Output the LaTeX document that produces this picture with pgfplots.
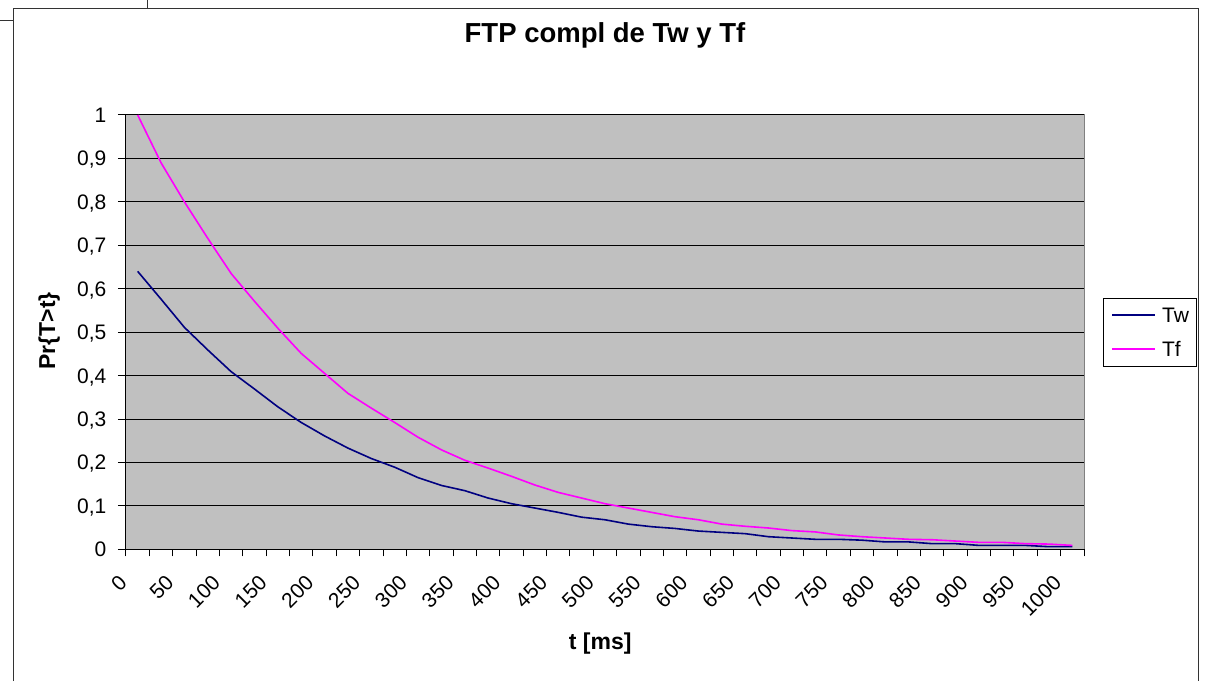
\documentclass[border=0pt]{standalone}
\usepackage{fontspec}
\setmainfont{Liberation Sans}
\usepackage{pgfplots}
\pgfplotsset{compat=1.18}
\definecolor{plotgray}{HTML}{C0C0C0}
\definecolor{framegray}{HTML}{808080}
\definecolor{twblue}{HTML}{000080}
\definecolor{tfmag}{HTML}{FF00FF}

\begin{document}
\begin{tikzpicture}[x=1pt,y=1pt]
\useasboundingbox (0,0) rectangle (602.5,340.5);
\clip (0,0) rectangle (602.5,340.5);
% chart frame and neighbouring cell borders
\draw[black!80, line width=0.6pt] (6.65,0) -- (6.65,336.15) -- (599.1,336.15) -- (599.1,0);
\draw[black!80, line width=0.6pt] (0,330.15) -- (6.65,330.15);
\draw[black!80, line width=0.6pt] (73.85,340.5) -- (73.85,336.15);
\begin{axis}[
  at={(63pt,65.85pt)}, anchor=south west,
  scale only axis, width=479pt, height=217.15pt,
  xmin=-0.5, xmax=40.5, ymin=0, ymax=1,
  axis lines*=left,
  axis line style={black, line width=0.5pt},
  axis background/.style={fill=plotgray, draw=framegray, line width=0.5pt},
  tick align=outside, tick pos=left,
  major tick length=4pt, minor tick length=3.5pt,
  xtick={0,2,...,40},
  xticklabels={0,50,100,150,200,250,300,350,400,450,500,550,600,650,700,750,800,850,900,950,1000},
  major x tick style={draw=none},
  minor xtick={-0.5,0.5,...,40.5},
  minor tick style={black, line width=0.5pt},
  ytick={0,0.1,0.2,0.3,0.4,0.5,0.6,0.7,0.8,0.9,1},
  y tick style={black, line width=0.5pt},
  ymajorgrids=true,
  major grid style={black, line width=0.5pt},
  /pgf/number format/.cd, use comma, fixed, precision=1, assume math mode=true,
  /pgfplots/.cd,
  tick label style={font=\fontsize{10.5}{12}\selectfont},
  xticklabel style={inner sep=0pt, xshift=-10pt, yshift=-8pt, rotate=45, anchor=north east},
  yticklabel style={inner sep=0pt, anchor=base east, xshift=-5.65pt, yshift=-3.75pt},
  title={FTP compl de Tw y Tf},
  title style={at={(0.5,1.1396)}, anchor=base, inner sep=0pt,
    font=\bfseries\fontsize{13.75}{16}\selectfont},
  xlabel={t [ms]},
  xlabel style={at={(0.495,-0.2297)}, anchor=base, inner sep=0pt,
    font=\bfseries\fontsize{11.5}{14}\selectfont},
  ylabel={Pr\{T>t\}},
  ylabel style={at={(-0.0741,0.503)}, anchor=base, inner sep=0pt,
    font=\bfseries\fontsize{11.5}{14}\selectfont},
  legend cell align=left,
  legend image code/.code={\draw[#1] (0pt,0pt) -- (21.5pt,0pt);},
  legend style={at={(1.0198,0.5)}, anchor=west, draw=black, line width=0.5pt,
    fill=white, inner xsep=4pt, inner ysep=4.8pt, row sep=9.35pt, column sep=3pt,
    nodes={inner sep=0pt, text height=7.5pt, text depth=0pt},
    font=\fontsize{10.5}{12}\selectfont},
]
\addplot[twblue, line width=0.8pt] coordinates {
  (0,0.640) (1,0.576) (2,0.511) (3,0.459) (4,0.409) (5,0.369) (6,0.328)
  (7,0.292) (8,0.261) (9,0.233) (10,0.209) (11,0.189) (12,0.165) (13,0.147)
  (14,0.135) (15,0.118) (16,0.105) (17,0.095) (18,0.085) (19,0.074) (20,0.068)
  (21,0.058) (22,0.052) (23,0.048) (24,0.042) (25,0.039) (26,0.036) (27,0.029)
  (28,0.026) (29,0.023) (30,0.023) (31,0.021) (32,0.017) (33,0.017) (34,0.013)
  (35,0.013) (36,0.009) (37,0.009) (38,0.009) (39,0.006) (40,0.006)
};
\addlegendentry{Tw}
\addplot[tfmag, line width=0.8pt] coordinates {
  (0,1.000) (1,0.890) (2,0.800) (3,0.716) (4,0.635) (5,0.571) (6,0.509)
  (7,0.451) (8,0.405) (9,0.359) (10,0.325) (11,0.292) (12,0.258) (13,0.229)
  (14,0.205) (15,0.187) (16,0.168) (17,0.148) (18,0.131) (19,0.118) (20,0.105)
  (21,0.095) (22,0.085) (23,0.075) (24,0.068) (25,0.058) (26,0.053) (27,0.049)
  (28,0.043) (29,0.040) (30,0.033) (31,0.029) (32,0.026) (33,0.023) (34,0.022)
  (35,0.019) (36,0.016) (37,0.016) (38,0.013) (39,0.012) (40,0.009)
};
\addlegendentry{Tf}
\end{axis}
\end{tikzpicture}
\end{document}
